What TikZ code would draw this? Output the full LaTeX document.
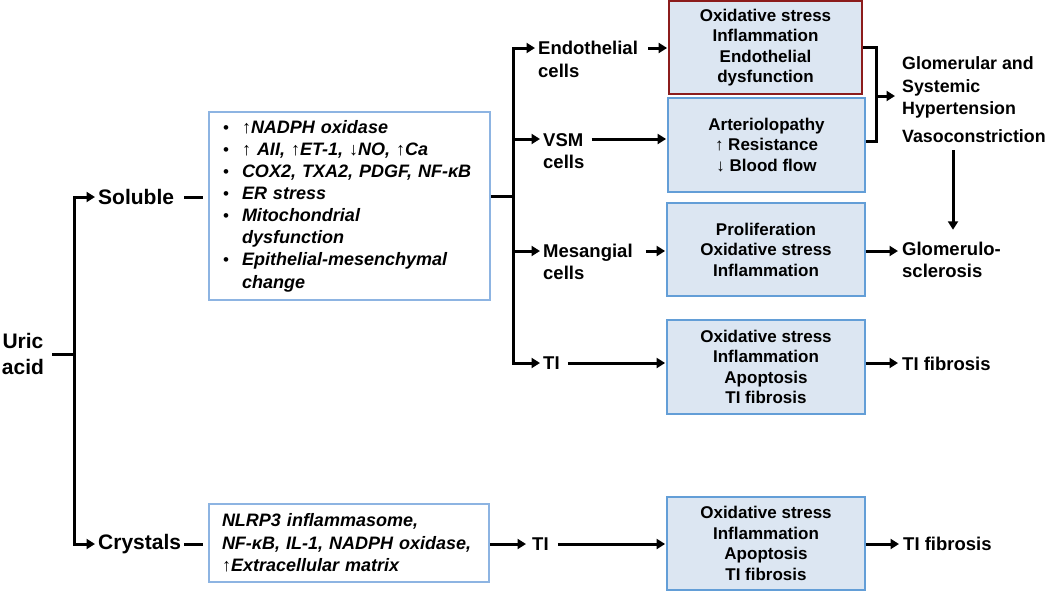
\documentclass[tikz,border=0pt]{standalone}
\usepackage{fontspec}
\setmainfont{Liberation Sans}
\usetikzlibrary{arrows.meta,calc}
\definecolor{boxfill}{RGB}{220,230,242}
\definecolor{boxline}{RGB}{99,158,215}
\definecolor{wboxline}{RGB}{141,180,226}
\definecolor{redline}{RGB}{140,28,28}
\newcommand{\UpA}{{\mdseries\upshape ↑}}
\newcommand{\DnA}{{\mdseries\upshape ↓}}
\newcommand{\Bul}{\makebox[19pt][l]{\mdseries\upshape\fontsize{17}{17}\selectfont •}}
\begin{document}
\begin{tikzpicture}[x=1pt,y=-1pt,
  conn/.style={line width=3pt},
  arr/.style={line width=3pt,line join=miter,-{Triangle[length=8.5pt,width=10pt]}},
  bigl/.style={inner sep=0pt,font=\bfseries\fontsize{21}{26}\selectfont,align=center},
  lab/.style={inner sep=0pt,font=\bfseries\fontsize{18.5}{22.5}\selectfont,align=left},
  fbox/.style={draw=boxline,line width=1.8pt,fill=boxfill,minimum width=198pt,minimum height=93pt,inner sep=0pt,align=center,font=\bfseries\fontsize{17}{20.5}\selectfont},
  wbox/.style={draw=wboxline,line width=1.5pt,fill=white,inner xsep=14pt,inner ysep=0pt,align=left,font=\bfseries\itshape\fontsize{18}{22.1}\selectfont}
]
\useasboundingbox (0,0) rectangle (1050,592);

% coordinates
\coordinate (j1) at (74,354);
\coordinate (j2) at (513,196);
\coordinate (ey) at (0,48);
\coordinate (vy) at (0,139);
\coordinate (vy2) at (0,141);
\coordinate (my) at (0,251);
\coordinate (gy) at (0,96);
\coordinate (bx) at (876,0);
\coordinate (gx) at (953,0);

% left labels
\node[bigl] (uric) at (23,354) {Uric\\acid};
\node[bigl,anchor=west] (sol) at (98,197) {Soluble};
\node[bigl,anchor=west] (cry) at (98,544) {Crystals};

% white boxes
\node[wbox,minimum width=281pt,minimum height=188pt,text width=253pt] (solbox) at (349.5,206) {%
\mbox{\Bul\UpA NADPH oxidase}\\
\mbox{\Bul\UpA\ AII, \UpA ET-1, \DnA NO, \UpA Ca}\\
\mbox{\Bul COX2, TXA2, PDGF, NF-κB}\\
\mbox{\Bul ER stress}\\
\mbox{\Bul Mitochondrial}\\
\mbox{\hspace*{19pt}dysfunction}\\
\mbox{\Bul Epithelial-mesenchymal}\\
\mbox{\hspace*{19pt}change}};
\node[wbox,minimum width=280pt,minimum height=78pt,text width=254pt,inner xsep=13pt,font=\bfseries\itshape\fontsize{18}{22.5}\selectfont] (crybox) at (349,543) {%
\mbox{NLRP3 inflammasome,}\\
\mbox{NF-κB, IL-1, NADPH oxidase,}\\
\mbox{\UpA Extracellular matrix}};

% middle labels
\node[lab,anchor=west] (endo) at (538,59.5) {Endothelial\\cells};
\node[lab,anchor=west] (vsm) at (543,151) {VSM\\cells};
\node[lab,anchor=west] (mes) at (543,262) {Mesangial\\cells};
\node[lab,anchor=west] (ti) at (543,363) {TI};
\node[lab,anchor=west] (ti2) at (532,544) {TI};

% filled boxes
\node[fbox,draw=redline,minimum width=193pt] (endobox) at (765.5,47.5) {Oxidative stress\\Inflammation\\Endothelial\\dysfunction};
\node[fbox,minimum width=197pt,minimum height=94pt] (vsmbox) at (766.5,145) {Arteriolopathy\\\UpA\ Resistance\\\DnA\ Blood flow};
\node[fbox] (mesbox) at (766,249.5) {Proliferation\\Oxidative stress\\Inflammation};
\node[fbox,minimum height=94pt] (tibox) at (766,367) {Oxidative stress\\Inflammation\\Apoptosis\\TI fibrosis};
\node[fbox] (tibox2) at (766,543.5) {Oxidative stress\\Inflammation\\Apoptosis\\TI fibrosis};

% right labels
\node[lab,anchor=west,font=\bfseries\fontsize{17.8}{22.5}\selectfont] (glom) at (902,99.5) {Glomerular and\\Systemic\\Hypertension\\[5pt]Vasoconstriction};
\node[lab,anchor=west] (gs) at (902,260) {Glomerulo-\\sclerosis};
\node[lab,anchor=west] (tif) at (902,364) {TI fibrosis};
\node[lab,anchor=west] (tif2) at (903,544) {TI fibrosis};

% connectors: uric acid
\draw[conn] ($(uric.east |- j1)+(8,0)$) -- (j1);
\draw[arr] (j1) -- (j1 |- sol) -- ($(sol.west)+(-3,0)$);
\draw[arr] (j1) -- (j1 |- cry) -- ($(cry.west)+(-3,0)$);
\draw[conn] ($(sol.east)+(10,0)$) -- ($(solbox.west |- sol)+(-5,0)$);
\draw[conn] ($(cry.east)+(3,0)$) -- ($(crybox.west |- cry)+(-5,0)$);

% soluble branch
\draw[conn] (solbox.east |- j2) -- (j2);
\draw[arr] (j2) -- (j2 |- ey) -- ($(endo.west |- ey)+(-3,0)$);
\draw[arr] (j2) -- (j2 |- ti) -- ($(ti.west)+(-3,0)$);
\draw[arr] (j2 |- vy) -- ($(vsm.west |- vy)+(-3,0)$);
\draw[arr] (j2 |- my) -- ($(mes.west |- my)+(-3,0)$);

\draw[arr] ($(endo.east |- ey)+(10,0)$) -- ($(endobox.west |- ey)+(-1,0)$);
\draw[arr] ($(vsm.east |- vy)+(7,0)$) -- ($(vsmbox.west |- vy)+(-1,0)$);
\draw[arr] ($(mes.east |- my)+(13,0)$) -- ($(mesbox.west |- my)+(-1,0)$);
\draw[arr] ($(ti.east)+(8,0)$) -- ($(tibox.west |- ti)+(-1,0)$);

% bracket to hypertension
\draw[conn,line join=miter] (endobox.east) -- (bx |- endobox.east) -- (bx |- vy2) -- (vsmbox.east |- vy2);
\draw[arr] (bx |- gy) -- ($(glom.west |- gy)+(-7,0)$);
\draw[arr] ($(glom.south -| gx)+(0,8)$) -- ($(gs.north -| gx)+(0,-12)$);

% outcomes
\draw[arr] (mesbox.east |- my) -- ($(gs.west |- my)+(-4,0)$);
\draw[arr] (tibox.east |- ti) -- ($(tif.west |- ti)+(-4,0)$);

% crystals branch
\draw[arr] (crybox.east |- cry) -- ($(ti2.west |- cry)+(-6,0)$);
\draw[arr] ($(ti2.east)+(9,0)$) -- ($(tibox2.west |- ti2)+(-1,0)$);
\draw[arr] (tibox2.east |- ti2) -- ($(tif2.west |- ti2)+(-4,0)$);
\end{tikzpicture}
\end{document}
